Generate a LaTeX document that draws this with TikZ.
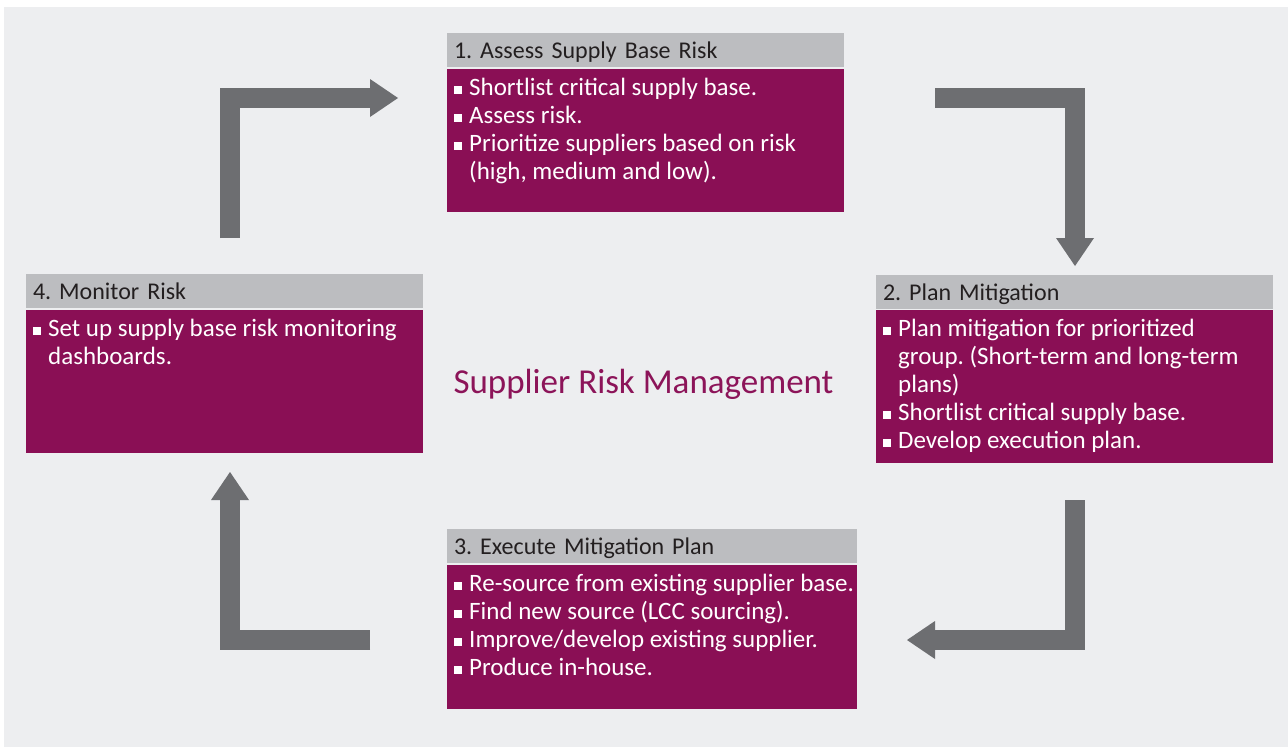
\documentclass[tikz,border=0pt]{standalone}
\usepackage{fontspec}
\setmainfont{Carlito}
\usetikzlibrary{arrows.meta}
\definecolor{bgc}{HTML}{EDEEF0}
\definecolor{hdrc}{HTML}{BCBDC0}
\definecolor{purp}{HTML}{8A0F55}
\definecolor{arrc}{HTML}{6D6E71}
\definecolor{hdrtxt}{HTML}{231F20}
\definecolor{titlec}{HTML}{8C1459}
\frenchspacing
\newcommand{\bitem}[1]{\par\hangindent=15pt\hangafter=1\noindent\makebox[15pt][l]{\raisebox{1pt}{\color{white}\rule{8pt}{8pt}}}#1}
\newcommand{\blist}[1]{\vtop{\hsize=440pt\parindent=0pt\parskip=0pt\raggedright\baselineskip=28pt #1\par}}
\begin{document}
\begin{tikzpicture}[x=1pt,y=-1pt,
  hdr/.style={fill=hdrc, anchor=north west, inner sep=0pt, outer sep=0pt, minimum height=34pt, text width=#1, align=left, inner xsep=7pt, text height=16pt, text depth=0pt, font=\fontsize{24}{26}\selectfont, text=hdrtxt},
  body/.style={fill=purp, anchor=north west, inner sep=0pt, outer sep=0pt},
  btext/.style={anchor=base west, inner sep=0pt, text=white, font=\fontsize{25}{28}\selectfont},
  blockarrow/.style={draw=arrc, line width=20pt, line cap=butt, line join=miter, -{Triangle[length=28pt,width=38pt,line width=0pt]}}
]
\useasboundingbox (0,0) rectangle (1288,747);
\fill[white] (0,0) rectangle (1288,747);
\fill[bgc] (4,7) rectangle (1288,747);

% Box 1
\node[hdr=383pt, minimum width=397pt] (h1) at (447,33) {1. Assess Supply Base Risk};
\node[body, minimum width=397pt, minimum height=143pt] (b1) at (447,69) {};
\node[btext] (t1) at (454,95) {\blist{%
\bitem{Shortlist critical supply base.}
\bitem{Assess risk.}
\bitem{Prioritize suppliers based on risk\newline (high, medium and low).}}};

% Box 2
\node[hdr=383pt, minimum width=397pt] (h2) at (876,275) {2. Plan Mitigation};
\node[body, minimum width=397pt, minimum height=153pt] (b2) at (876,310) {};
\node[btext] (t2) at (883,336) {\blist{%
\bitem{Plan mitigation for prioritized\newline group. (Short-term and long-term\newline plans)}
\bitem{Shortlist critical supply base.}
\bitem{Develop execution plan.}}};

% Box 3
\node[hdr=396pt, minimum width=410pt] (h3) at (447,529) {3. Execute Mitigation Plan};
\node[body, minimum width=410pt, minimum height=144pt] (b3) at (447,565) {};
\node[btext] (t3) at (454,591) {\blist{%
\bitem{Re-source from existing supplier base.}
\bitem{Find new source (LCC sourcing).}
\bitem{Improve/develop existing supplier.}
\bitem{Produce in-house.}}};

% Box 4
\node[hdr=383pt, minimum width=397pt] (h4) at (26,274) {4. Monitor Risk};
\node[body, minimum width=397pt, minimum height=143pt] (b4) at (26,310) {};
\node[btext] (t4) at (33,336) {\blist{%
\bitem{Set up supply base risk monitoring\newline dashboards.}}};

% Title
\node[anchor=base, inner sep=0pt, text=titlec, font=\fontsize{35}{40}\selectfont] (title) at (643.5,393) {Supplier Risk Management};

% Arrows
\coordinate (a1s) at (230,238); \coordinate (a1e) at (398,98);
\coordinate (a2s) at (935,98);  \coordinate (a2e) at (1075,266);
\coordinate (a3s) at (1075,500); \coordinate (a3e) at (907,640);
\coordinate (a4s) at (370,640); \coordinate (a4e) at (230,472);
\draw[blockarrow] (a1s) |- (a1e);
\draw[blockarrow] (a2s) -| (a2e);
\draw[blockarrow] (a3s) |- (a3e);
\draw[blockarrow] (a4s) -| (a4e);
\end{tikzpicture}
\end{document}
